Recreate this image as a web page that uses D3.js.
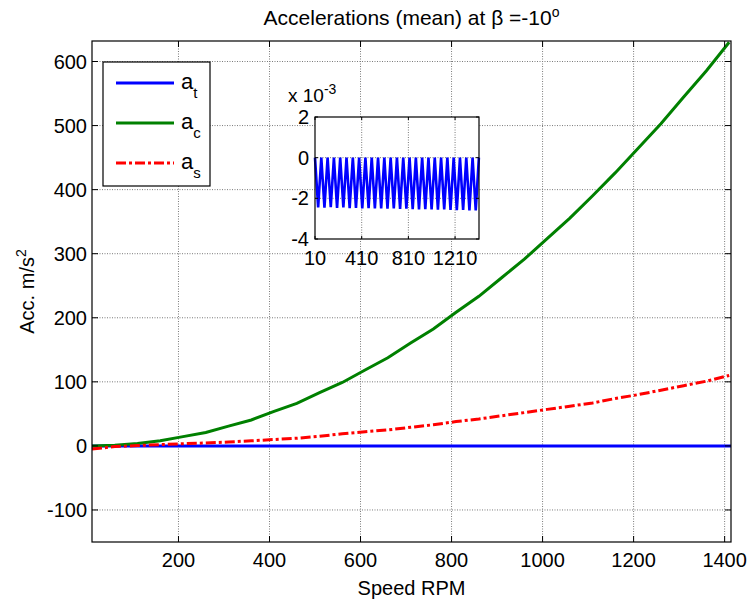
<!DOCTYPE html>
<html>
<head>
<meta charset="utf-8">
<script src="https://cdn.jsdelivr.net/npm/d3@7"></script>
<style>
body { margin: 0; background: #fff; }
svg text { font-family: "Liberation Sans", Arial, sans-serif; fill: #000; }
</style>
</head>
<body>
<div id="chart"></div>
<script>
const WIDTH = 748;
const HEIGHT = 602;
const MARGIN = { TOP: 41, BOTTOM: 60, LEFT: 92, RIGHT: 17 };
const width = WIDTH - MARGIN.LEFT - MARGIN.RIGHT;
const height = HEIGHT - MARGIN.TOP - MARGIN.BOTTOM;

// main curves, every 50 RPM
const rpm = [10, 60, 110, 160, 210, 260, 310, 360, 410, 460, 510, 560, 610, 660, 710,
  760, 810, 860, 910, 960, 1010, 1060, 1110, 1160, 1210, 1260, 1310, 1360, 1410];
const accC = [0, 1.2, 3.9, 8.0, 14.5, 21.0, 30.8, 40.5, 53.8, 66.5, 83.0, 99.0, 118.5, 137.5, 160.5,
  182.5, 208.5, 233.5, 262.5, 291.5, 323.5, 355.5, 390.5, 426.5, 464.5, 503, 544.5, 585.5, 630];
const accS = [-5, -1, 0.5, 2, 3.5, 4.5, 6, 8, 10, 12, 15, 19, 22, 25, 29,
  33, 38, 42, 47, 52, 57, 62, 67, 74, 80, 87, 94, 101, 110];

// tangential acc. (x 10^-3), shown in the inset
const rpmFine = [10, 37, 64, 91, 118, 145, 172, 199, 226, 253, 280, 307, 334, 361, 388, 415,
  442, 469, 496, 523, 550, 577, 604, 631, 658, 685, 712, 739, 766, 793, 820, 847, 874, 901,
  928, 955, 982, 1009, 1036, 1063, 1090, 1117, 1144, 1171, 1198, 1225, 1252, 1279, 1306,
  1333, 1360, 1387, 1414];
const accTMilli = [0, -2.45, 0, -2.46, 0, -2.44, 0, -2.47, 0, -2.45, 0, -2.48, 0, -2.47, 0, -2.49,
  0, -2.48, 0, -2.5, 0, -2.49, 0, -2.51, 0, -2.5, 0, -2.52, 0, -2.51, 0, -2.53,
  0, -2.54, 0, -2.53, 0, -2.55, 0, -2.56, 0, -2.55, 0, -2.57, 0, -2.58,
  0, -2.57, 0, -2.59, 0, -2.6, 0];

const xTicks = [200, 400, 600, 800, 1000, 1200, 1400];
const yTicks = [-100, 0, 100, 200, 300, 400, 500, 600];
const insetXTicks = [10, 410, 810, 1210];
const insetYTicks = [-4, -2, 0, 2];
const legendLabels = [["a", "t"], ["a", "c"], ["a", "s"]];
const colors = ["#0000ff", "#008000", "#ff0000"];

const svg = d3.select("#chart").append("svg")
  .attr("width", WIDTH)
  .attr("height", HEIGHT);

const x = d3.scaleLinear().domain([10, 1414]).range([MARGIN.LEFT, MARGIN.LEFT + width]);
const y = d3.scaleLinear().domain([-150, 632]).range([MARGIN.TOP + height, MARGIN.TOP]);

// grid
const grid = svg.append("g").attr("stroke", "#7a7a7a").attr("stroke-dasharray", "1,1.5");
grid.selectAll(".gx").data(xTicks).enter().append("line")
  .attr("x1", d => x(d)).attr("x2", d => x(d))
  .attr("y1", MARGIN.TOP).attr("y2", MARGIN.TOP + height);
grid.selectAll(".gy").data(yTicks).enter().append("line")
  .attr("x1", MARGIN.LEFT).attr("x2", MARGIN.LEFT + width)
  .attr("y1", d => y(d)).attr("y2", d => y(d));

// curves
const lineT = d3.line().x((d, i) => x(rpmFine[i])).y(d => y(d / 1000));
const lineMain = d3.line().x((d, i) => x(rpm[i])).y(d => y(d));

svg.append("path").datum(accTMilli)
  .attr("d", lineT).attr("fill", "none")
  .attr("stroke", colors[0]).attr("stroke-width", 3);
svg.append("path").datum(accC)
  .attr("d", lineMain).attr("fill", "none")
  .attr("stroke", colors[1]).attr("stroke-width", 3);
svg.append("path").datum(accS)
  .attr("d", lineMain).attr("fill", "none")
  .attr("stroke", colors[2]).attr("stroke-width", 3)
  .attr("stroke-dasharray", "10,3,3,3");

// axes, ticks inward on all sides like matlab
function boxAxes(g, sx, sy, xt, yt, tick) {
  const [x0, x1] = sx.range();
  const [y0, y1] = sy.range();
  g.append("rect")
    .attr("x", x0).attr("y", y1).attr("width", x1 - x0).attr("height", y0 - y1)
    .attr("fill", "none").attr("stroke", "#000").attr("stroke-width", 1.2);
  xt.forEach(t => {
    g.append("line").attr("x1", sx(t)).attr("x2", sx(t)).attr("y1", y0).attr("y2", y0 - tick).attr("stroke", "#000");
    g.append("line").attr("x1", sx(t)).attr("x2", sx(t)).attr("y1", y1).attr("y2", y1 + tick).attr("stroke", "#000");
  });
  yt.forEach(t => {
    g.append("line").attr("y1", sy(t)).attr("y2", sy(t)).attr("x1", x0).attr("x2", x0 + tick).attr("stroke", "#000");
    g.append("line").attr("y1", sy(t)).attr("y2", sy(t)).attr("x1", x1).attr("x2", x1 - tick).attr("stroke", "#000");
  });
}

const axes = svg.append("g");
boxAxes(axes, x, y, xTicks, yTicks, 6);

axes.selectAll(".xl").data(xTicks).enter().append("text")
  .attr("x", d => x(d)).attr("y", 567)
  .attr("text-anchor", "middle").style("font-size", "20px")
  .text(d => d);
axes.selectAll(".yl").data(yTicks).enter().append("text")
  .attr("x", 87).attr("y", d => y(d) + 7)
  .attr("text-anchor", "end").style("font-size", "20px")
  .text(d => d);

// title and axis labels
const title = svg.append("text")
  .attr("x", MARGIN.LEFT + width / 2).attr("y", 25)
  .attr("text-anchor", "middle").style("font-size", "21px");
title.append("tspan").text("Accelerations (mean) at \u03b2 =-10");
title.append("tspan").attr("dy", -8).style("font-size", "14px").text("o");

svg.append("text")
  .attr("x", MARGIN.LEFT + width / 2).attr("y", 595)
  .attr("text-anchor", "middle").style("font-size", "20px")
  .text("Speed RPM");

const ylab = svg.append("text")
  .attr("transform", "translate(34," + (MARGIN.TOP + height / 2) + ")rotate(-90)")
  .attr("text-anchor", "middle").style("font-size", "20px");
ylab.append("tspan").text("Acc. m/s");
ylab.append("tspan").attr("dy", -8).style("font-size", "14px").text("2");

// legend
const legend = svg.append("g");
legend.append("rect")
  .attr("x", 103).attr("y", 62).attr("width", 107).attr("height", 124)
  .attr("fill", "#fff").attr("stroke", "#000").attr("stroke-width", 1.2);
legendLabels.forEach((lab, i) => {
  const ly = 83 + i * 40;
  legend.append("line")
    .attr("x1", 116).attr("x2", 174).attr("y1", ly).attr("y2", ly)
    .attr("stroke", colors[i]).attr("stroke-width", 3)
    .attr("stroke-dasharray", i == 2 ? "10,3,3,3" : null);
  const t = legend.append("text").attr("x", 181).attr("y", ly + 6).style("font-size", "22px");
  t.append("tspan").text(lab[0]);
  t.append("tspan").attr("dy", 9).style("font-size", "15px").text(lab[1]);
});

// inset with the tangential acceleration
const ix = d3.scaleLinear().domain([10, 1415]).range([315, 479]);
const iy = d3.scaleLinear().domain([-4, 2]).range([239, 117]);
const inset = svg.append("g");
inset.append("rect").attr("x", 315).attr("y", 117).attr("width", 164).attr("height", 122).attr("fill", "#fff");
const igrid = inset.append("g").attr("stroke", "#7a7a7a").attr("stroke-dasharray", "1,1.5");
igrid.selectAll(".gx").data(insetXTicks.slice(1)).enter().append("line")
  .attr("x1", d => ix(d)).attr("x2", d => ix(d)).attr("y1", 117).attr("y2", 239);
igrid.selectAll(".gy").data(insetYTicks.slice(1, 3)).enter().append("line")
  .attr("x1", 315).attr("x2", 479).attr("y1", d => iy(d)).attr("y2", d => iy(d));

inset.append("path").datum(accTMilli)
  .attr("d", d3.line().x((d, i) => ix(rpmFine[i])).y(d => iy(d)))
  .attr("fill", "none").attr("stroke", colors[0]).attr("stroke-width", 2.6);

boxAxes(inset, ix, iy, insetXTicks, insetYTicks, 3);
inset.selectAll(".xl").data(insetXTicks).enter().append("text")
  .attr("x", d => ix(d)).attr("y", 265)
  .attr("text-anchor", "middle").style("font-size", "20px")
  .text(d => d);
inset.selectAll(".yl").data(insetYTicks).enter().append("text")
  .attr("x", 309).attr("y", d => iy(d) + 7)
  .attr("text-anchor", "end").style("font-size", "20px")
  .text(d => d);
const expo = inset.append("text").attr("x", 288).attr("y", 102).style("font-size", "19px");
expo.append("tspan").text("x 10");
expo.append("tspan").attr("dy", -8).style("font-size", "14px").text("-3");
</script>
</body>
</html>
